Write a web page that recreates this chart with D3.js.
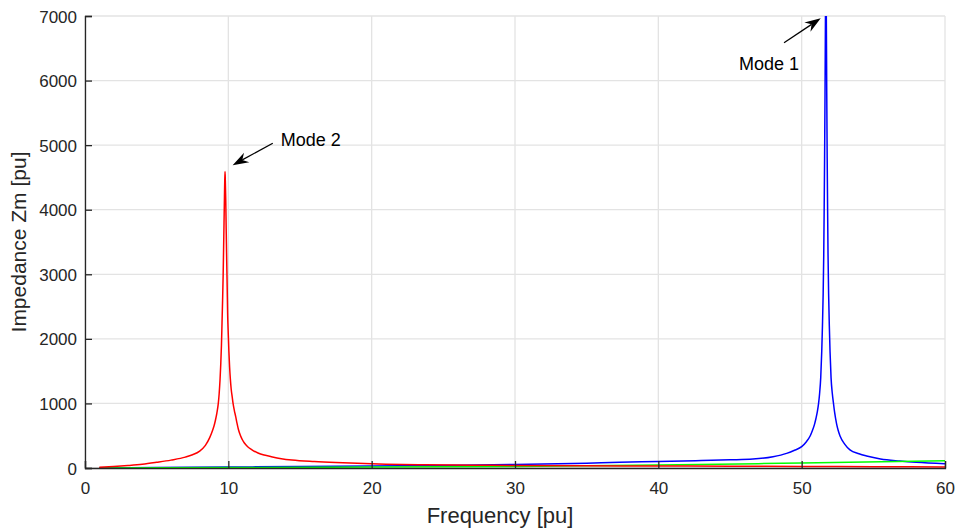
<!DOCTYPE html>
<html>
<head>
<meta charset="utf-8">
<script src="https://cdn.jsdelivr.net/npm/d3@7"></script>
<style>
  html, body { margin: 0; padding: 0; background: #fff; }
  svg { display: block; font-family: "Liberation Sans", Arial, Helvetica, sans-serif; }
</style>
</head>
<body>
<svg id="chart" width="956" height="529"></svg>
<script>
// Frequency sweep samples [frequency in pu, |Zm| in pu]
const modeTwoCurve = [
  [1, 10], [2, 22], [3, 38], [4, 58], [5, 88], [6, 122], [7, 168], [7.5, 205],
  [8, 262], [8.4, 350], [8.7, 470], [8.91, 588], [9.0, 650], [9.1, 740],
  [9.2, 850], [9.3, 1000], [9.36, 1150], [9.42, 1363], [9.47, 1600],
  [9.52, 1900], [9.56, 2250], [9.6, 2600], [9.64, 3000], [9.67, 3400],
  [9.7, 3800], [9.73, 4200], [9.75, 4450], [9.77, 4590], [9.79, 4450],
  [9.82, 4150], [9.85, 3700], [9.88, 3300], [9.92, 2800], [9.95, 2400],
  [10.0, 2050], [10.04, 1800], [10.09, 1560], [10.14, 1380], [10.2, 1220],
  [10.27, 1100], [10.33, 1000], [10.42, 890], [10.51, 800], [10.6, 700],
  [10.7, 600], [10.8, 530], [10.9, 475], [11.0, 430], [11.12, 387],
  [11.35, 330], [11.6, 290], [12.07, 232], [12.5, 200], [13, 175], [13.7, 145],
  [14.44, 124], [16, 100], [17.5, 84], [19, 72], [21, 60], [23.7, 51], [27, 44],
  [30, 40], [35, 35], [40, 31], [45, 27], [50, 24], [55, 20], [60, 16]
];
const modeOneCurve = [
  [1, 3], [5, 8], [10, 15], [15, 22], [20, 30], [25, 40], [30, 55], [35, 75],
  [37.3, 90], [40, 100], [43, 115], [45, 126], [46.6, 138], [48, 175],
  [48.95, 227], [49.5, 275], [50, 330], [50.3, 400], [50.6, 500], [50.75, 580],
  [50.9, 680], [51.0, 770], [51.1, 880], [51.18, 1000], [51.25, 1150],
  [51.33, 1400], [51.4, 1800], [51.45, 2200], [51.5, 2700], [51.54, 3300],
  [51.57, 4000], [51.6, 4800], [51.63, 5800], [51.66, 7000], [51.69, 7600],
  [51.72, 7000], [51.75, 5800], [51.78, 4800], [51.81, 4000], [51.84, 3300],
  [51.88, 2700], [51.93, 2200], [51.98, 1800], [52.05, 1400], [52.14, 1150],
  [52.22, 1000], [52.3, 860], [52.44, 680], [52.55, 580], [52.67, 500],
  [53, 370], [53.37, 280], [54, 220], [54.53, 186], [55.5, 140], [56.86, 108],
  [58, 88], [60, 66]
];
const thirdCurve = [
  [1, 1], [10, 6], [20, 14], [30, 25], [40, 45], [50, 78], [60, 112]
];
const xTicks = [0, 10, 20, 30, 40, 50, 60];
const yTicks = [0, 1000, 2000, 3000, 4000, 5000, 6000, 7000];
const annotations = [
  { text: "Mode 2", tip: [10.3, 4690], tail: [13.1, 5030], label: [13.65, 4987], anchor: "start" },
  { text: "Mode 1", tip: [51.33, 6965], tail: [48.77, 6587], label: [49.81, 6164], anchor: "end" }
];

const svg = d3.select("#chart");
const margin = { left: 85, right: 11, top: 16, bottom: 61 };
const W = 956, H = 529;

const x = d3.scaleLinear().domain([0, 60]).range([margin.left, W - margin.right]);
const y = d3.scaleLinear().domain([0, 7000]).range([H - margin.bottom, margin.top]);

const axisColor = "#262626";
const gridColor = "#e3e3e3";

// grid
const grid = svg.append("g");
grid.selectAll(".gx").data(xTicks).join("line")
  .attr("x1", d => x(d)).attr("x2", d => x(d))
  .attr("y1", y(0)).attr("y2", y(7000))
  .attr("stroke", gridColor).attr("stroke-width", 1.3);
grid.selectAll(".gy").data(yTicks).join("line")
  .attr("x1", x(0)).attr("x2", x(60))
  .attr("y1", d => y(d)).attr("y2", d => y(d))
  .attr("stroke", gridColor).attr("stroke-width", 1.3);

// curves, clipped to the axes box
svg.append("defs").append("clipPath").attr("id", "plotclip")
  .append("rect").attr("x", x(0)).attr("y", y(7000))
  .attr("width", x(60) - x(0)).attr("height", y(0) - y(7000));

const line = d3.line().x(d => x(d[0])).y(d => y(d[1])).curve(d3.curveMonotoneX);
const curves = svg.append("g").attr("clip-path", "url(#plotclip)");
[[modeOneCurve, "#0000ff"], [thirdCurve, "#00ff00"], [modeTwoCurve, "#ff0000"]].forEach(([data, color]) => {
  curves.append("path").datum(data)
    .attr("d", line).attr("fill", "none")
    .attr("stroke", color).attr("stroke-width", 1.5)
    .attr("stroke-linejoin", "round");
});

// axes (ticks pointing into the plot)
const xAxis = svg.append("g").attr("transform", `translate(0,${y(0)})`)
  .call(d3.axisBottom(x).tickValues(xTicks).tickSize(-7).tickPadding(14).tickFormat(d3.format("d")));
const yAxis = svg.append("g").attr("transform", `translate(${x(0)},0)`)
  .call(d3.axisLeft(y).tickValues(yTicks).tickSize(-7).tickPadding(8).tickFormat(d3.format("d")));
[xAxis, yAxis].forEach(g => {
  g.select(".domain").attr("stroke", axisColor).attr("stroke-width", 1.3);
  g.selectAll(".tick line").attr("stroke", axisColor).attr("stroke-width", 1.3);
  g.selectAll(".tick text").attr("fill", axisColor).attr("font-size", 17)
    .attr("font-family", "\"Liberation Sans\", Arial, sans-serif");
});
yAxis.selectAll(".tick text").attr("dy", "0.36em");

// axis titles
svg.append("text").attr("x", 500).attr("y", 523)
  .attr("text-anchor", "middle").attr("fill", axisColor).attr("font-size", 22)
  .text("Frequency [pu]");
svg.append("text").attr("transform", `translate(26,${(y(0) + y(7000)) / 2}) rotate(-90)`)
  .attr("text-anchor", "middle").attr("fill", axisColor).attr("font-size", 21)
  .text("Impedance Zm [pu]");

// annotation arrows
annotations.forEach(a => {
  const x0 = x(a.tail[0]), y0 = y(a.tail[1]);
  const x1 = x(a.tip[0]), y1 = y(a.tip[1]);
  const ang = Math.atan2(y1 - y0, x1 - x0);
  const len = 16, half = 5.5, back = 11;
  const ux = Math.cos(ang), uy = Math.sin(ang);
  const px = -uy, py = ux;
  const bx = x1 - ux * len, by = y1 - uy * len;
  const nx = x1 - ux * back, ny = y1 - uy * back;
  svg.append("line").attr("x1", x0).attr("y1", y0).attr("x2", nx).attr("y2", ny)
    .attr("stroke", "#000").attr("stroke-width", 1.3);
  svg.append("path")
    .attr("d", `M${x1},${y1}L${bx + px * half},${by + py * half}L${nx},${ny}L${bx - px * half},${by - py * half}Z`)
    .attr("fill", "#000");
  svg.append("text").attr("x", x(a.label[0])).attr("y", y(a.label[1]))
    .attr("text-anchor", a.anchor).attr("fill", "#000").attr("font-size", 18)
    .text(a.text);
});
</script>
</body>
</html>
